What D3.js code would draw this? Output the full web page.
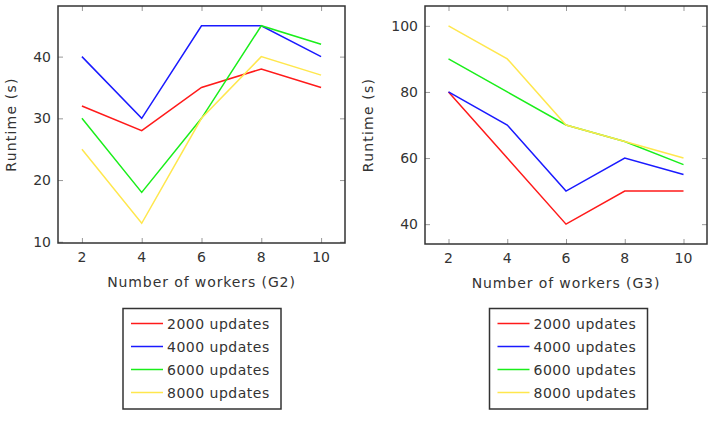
<!DOCTYPE html>
<html>
<head>
<meta charset="utf-8">
<script src="https://cdn.jsdelivr.net/npm/d3@7"></script>
<style>
  body { margin: 0; background: #fff; }
  text { font-family: "DejaVu Sans", sans-serif; fill: #333; }
</style>
</head>
<body>
<div id="chart"></div>
<script>
// workers on the x axis, same for both panels
const workers = [2, 4, 6, 8, 10];
const seriesNames = ["2000 updates", "4000 updates", "6000 updates", "8000 updates"];
const seriesColors = ["#ff1a1a", "#1a1aff", "#1aee1a", "#ffe74d"];

// G2 runtimes (s)
const g2_2000 = [32, 28, 35, 38, 35];
const g2_4000 = [40, 30, 45, 45, 40];
const g2_6000 = [30, 18, 30, 45, 42];
const g2_8000 = [25, 13, 30, 40, 37];

// G3 runtimes (s)
const g3_2000 = [80, 60, 40, 50, 50];
const g3_4000 = [80, 70, 50, 60, 55];
const g3_6000 = [90, 80, 70, 65, 58];
const g3_8000 = [100, 90, 70, 65, 60];

const xTicks = [2, 4, 6, 8, 10];
const g2YTicks = [10, 20, 30, 40];
const g3YTicks = [40, 60, 80, 100];

const W = 714, H = 421;
const svg = d3.select("#chart").append("svg")
  .attr("width", W).attr("height", H);

// pgfplots style: 10% enlargement of the data range
function enlarge(ext) {
  const pad = (ext[1] - ext[0]) * 0.1;
  return [ext[0] - pad, ext[1] + pad];
}

function panel(opt) {
  const g = svg.append("g");
  const x = d3.scaleLinear().domain(enlarge(d3.extent(workers))).range([opt.left, opt.right]);
  const allVals = opt.series.flat();
  const y = d3.scaleLinear().domain(enlarge(d3.extent(allVals))).range([opt.bottom, opt.top]);

  // ticks inside on all four sides
  const tickLen = 5;
  const tickCol = "#999";
  g.append("g").attr("transform", `translate(0,${opt.bottom})`)
    .call(d3.axisTop(x).tickValues(xTicks).tickSize(tickLen).tickFormat(""))
    .call(a => a.select(".domain").remove())
    .selectAll("line").attr("stroke", tickCol);
  g.append("g").attr("transform", `translate(0,${opt.top})`)
    .call(d3.axisBottom(x).tickValues(xTicks).tickSize(tickLen).tickFormat(""))
    .call(a => a.select(".domain").remove())
    .selectAll("line").attr("stroke", tickCol);
  g.append("g").attr("transform", `translate(${opt.left},0)`)
    .call(d3.axisRight(y).tickValues(opt.yTicks).tickSize(tickLen).tickFormat(""))
    .call(a => a.select(".domain").remove())
    .selectAll("line").attr("stroke", tickCol);
  g.append("g").attr("transform", `translate(${opt.right},0)`)
    .call(d3.axisLeft(y).tickValues(opt.yTicks).tickSize(tickLen).tickFormat(""))
    .call(a => a.select(".domain").remove())
    .selectAll("line").attr("stroke", tickCol);

  // tick labels
  g.selectAll(".xl").data(xTicks).enter().append("text")
    .attr("x", d => x(d)).attr("y", opt.bottom + 19)
    .attr("text-anchor", "middle").style("font-size", "14px")
    .text(d => d);
  g.selectAll(".yl").data(opt.yTicks).enter().append("text")
    .attr("x", opt.left - 7).attr("y", d => y(d))
    .attr("dy", "0.36em")
    .attr("text-anchor", "end").style("font-size", "14px")
    .text(d => d);

  // lines
  const line = d3.line().x((d, i) => x(workers[i])).y(d => y(d));
  opt.series.forEach((s, i) => {
    g.append("path").datum(s)
      .attr("d", line)
      .attr("fill", "none")
      .attr("stroke", seriesColors[i])
      .attr("stroke-width", 1.5)
      .attr("stroke-linejoin", "miter");
  });

  // frame
  g.append("rect")
    .attr("x", opt.left).attr("y", opt.top)
    .attr("width", opt.right - opt.left).attr("height", opt.bottom - opt.top)
    .attr("fill", "none").attr("stroke", "#333").attr("stroke-width", 1.5);

  // axis labels
  g.append("text")
    .attr("x", (opt.left + opt.right) / 2).attr("y", opt.bottom + 44)
    .attr("text-anchor", "middle").style("font-size", "14px")
    .style("letter-spacing", "0.9px")
    .text(opt.xLabel);
  g.append("text")
    .attr("transform", `translate(${opt.yLabelX},${(opt.top + opt.bottom) / 2}) rotate(-90)`)
    .attr("text-anchor", "middle").attr("dy", "0.35em").style("font-size", "14px")
    .style("letter-spacing", "1.2px")
    .text("Runtime (s)");

  // legend
  const lx = opt.legendX, ly = 308.5, lw = 158, lh = 100.5;
  const leg = g.append("g");
  leg.append("rect")
    .attr("x", lx).attr("y", ly).attr("width", lw).attr("height", lh)
    .attr("fill", "#fff").attr("stroke", "#333").attr("stroke-width", 1.5);
  seriesNames.forEach((name, i) => {
    const cy = ly + 15 + i * 23;
    leg.append("line")
      .attr("x1", lx + 8).attr("x2", lx + 40)
      .attr("y1", cy).attr("y2", cy)
      .attr("stroke", seriesColors[i]).attr("stroke-width", 1.5);
    leg.append("text")
      .attr("x", lx + 44).attr("y", cy).attr("dy", "0.36em")
      .style("font-size", "14px").style("letter-spacing", "0.5px")
      .text(name);
  });
}

panel({
  left: 58, right: 345, top: 6, bottom: 243,
  series: [g2_2000, g2_4000, g2_6000, g2_8000],
  yTicks: g2YTicks,
  xLabel: "Number of workers (G2)",
  yLabelX: 11,
  legendX: 123
});

panel({
  left: 425, right: 707, top: 6, bottom: 244,
  series: [g3_2000, g3_4000, g3_6000, g3_8000],
  yTicks: g3YTicks,
  xLabel: "Number of workers (G3)",
  yLabelX: 368,
  legendX: 489.5
});
</script>
</body>
</html>
